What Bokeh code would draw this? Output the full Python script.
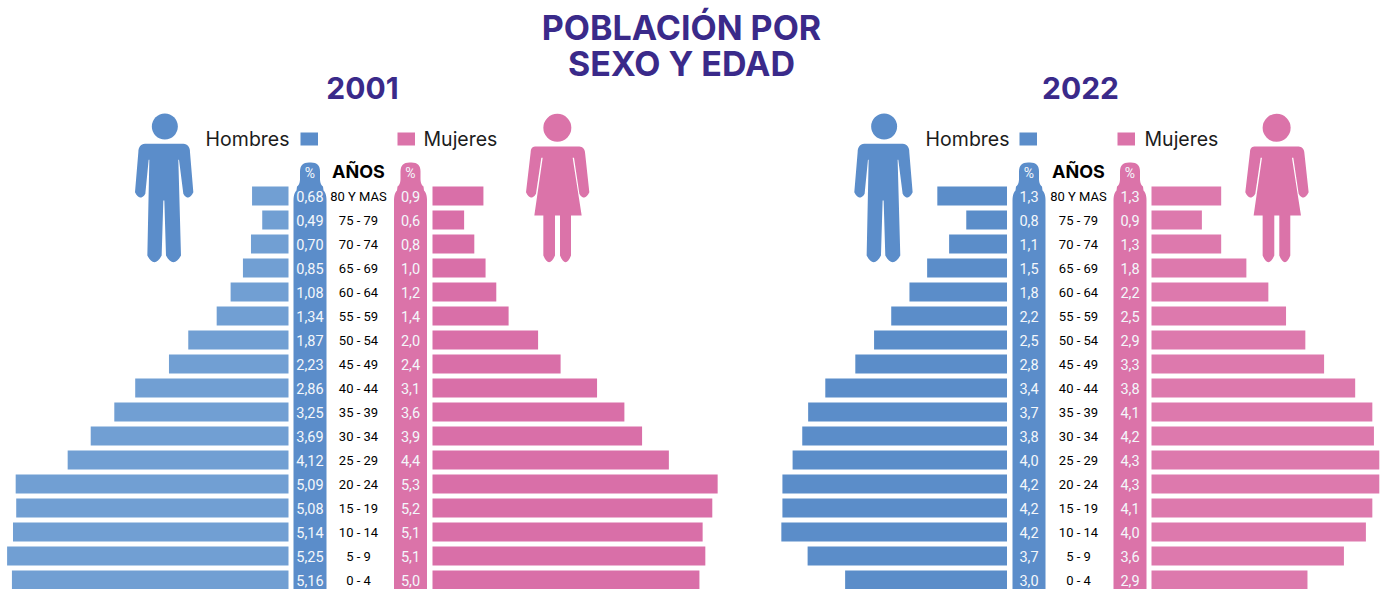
from bokeh.plotting import figure
from bokeh.models import Range1d
from bokeh.core.properties import value
from bokeh.embed import file_html
from bokeh.resources import INLINE

ages = ["80 Y MAS", "75 - 79", "70 - 74", "65 - 69", "60 - 64", "55 - 59", "50 - 54", "45 - 49", "40 - 44",
        "35 - 39", "30 - 34", "25 - 29", "20 - 24", "15 - 19", "10 - 14", "5 - 9", "0 - 4"]
men_2001_labels = ["0,68", "0,49", "0,70", "0,85", "1,08", "1,34", "1,87", "2,23", "2,86", "3,25", "3,69", "4,12",
                   "5,09", "5,08", "5,14", "5,25", "5,16"]
women_2001_labels = ["0,9", "0,6", "0,8", "1,0", "1,2", "1,4", "2,0", "2,4", "3,1", "3,6", "3,9", "4,4",
                     "5,3", "5,2", "5,1", "5,1", "5,0"]
men_2022_labels = ["1,3", "0,8", "1,1", "1,5", "1,8", "2,2", "2,5", "2,8", "3,4", "3,7", "3,8", "4,0",
                   "4,2", "4,2", "4,2", "3,7", "3,0"]
women_2022_labels = ["1,3", "0,9", "1,3", "1,8", "2,2", "2,5", "2,9", "3,3", "3,8", "4,1", "4,2", "4,3",
                     "4,3", "4,1", "4,0", "3,6", "2,9"]
men_2001 = [0.68, 0.49, 0.70, 0.85, 1.08, 1.34, 1.87, 2.23, 2.86, 3.25, 3.69, 4.12, 5.09, 5.08, 5.14, 5.25, 5.16]
women_2001 = [0.95, 0.59, 0.78, 0.99, 1.19, 1.42, 1.97, 2.39, 3.07, 3.58, 3.91, 4.41, 5.32, 5.22, 5.04, 5.09, 4.98]
men_2022 = [1.30, 0.76, 1.08, 1.49, 1.82, 2.16, 2.48, 2.83, 3.39, 3.71, 3.82, 4.00, 4.19, 4.19, 4.21, 3.72, 3.02]
women_2022 = [1.30, 0.94, 1.30, 1.77, 2.18, 2.51, 2.87, 3.22, 3.80, 4.12, 4.15, 4.25, 4.25, 4.12, 4.00, 3.59, 2.91]

W, H = 1386, 589
PX_PER_UNIT = 53.6
ROW0, ROW_STEP = 195.5, 24
BLUE, PINK = "#5b8dca", "#db73a9"
INDIGO = "#3a2a8a"
HEAD_FONT = value("Inter")
NARROW = value("Roboto")

p = figure(width=W, height=H, output_backend="svg", toolbar_location=None,
           x_range=Range1d(0, W), y_range=Range1d(H, 0), min_border=0, outline_line_color=None)
p.axis.visible = False
p.grid.visible = False
p.background_fill_color = "white"
p.border_fill_color = "white"
p.extra_y_ranges["rows"] = Range1d((H - ROW0) / ROW_STEP, -ROW0 / ROW_STEP)
rows = list(range(len(ages)))

def value_range(z, direction):
    if direction > 0:
        return Range1d(-z / PX_PER_UNIT, (W - z) / PX_PER_UNIT)
    return Range1d(z / PX_PER_UNIT, -(W - z) / PX_PER_UNIT)

def curve(a, b, c, n=8):
    out = []
    for i in range(n + 1):
        t = i / n
        out.append(((1-t)**2*a[0] + 2*t*(1-t)*b[0] + t*t*c[0], (1-t)**2*a[1] + 2*t*(1-t)*b[1] + t*t*c[1]))
    return out

def bottle(cx, neck, body, top=162, bottom=600):
    nl, nr, bl, br = cx - neck/2, cx + neck/2, cx - body/2, cx + body/2
    pts = curve((nl, top + 9), (nl, top), (nl + 9, top)) + curve((nr - 9, top), (nr, top), (nr, top + 9))
    pts += curve((nr, 178), (nr, 184), (nr + 3, 186)) + curve((br - 3, 190), (br, 193), (br, 200))
    pts += [(br, bottom), (bl, bottom)]
    pts += curve((bl, 200), (bl, 193), (bl + 3, 190)) + curve((nl - 3, 186), (nl, 184), (nl, 178))
    return [x for x, _ in pts], [y for _, y in pts]

def icon_man(dx):
    head = (120 + 133/3 + dx, 100 + 78/3)
    z = [(75,130),(190,130)] + curve((190,130),(210,132),(210,155))[1:] + [(220,275)] + curve((220,275),(205,305),(190,280))[1:]
    z += [(177,178),(175,178),(183,465)] + curve((183,465),(160,505),(138,465))[1:] + [(133,300),(130,300),(125,465)]
    z += curve((125,465),(103,505),(82,465))[1:] + [(88,178),(86,178),(76,280)] + curve((76,280),(60,305),(45,275))[1:] + [(55,155)]
    z += curve((55,155),(55,132),(75,130))[1:]
    p.circle(x=[head[0]], y=[head[1]], radius=13, fill_color=BLUE, line_color=None)
    p.patch([119.5 + a/3 + dx for a, _ in z], [100 + b/3 for _, b in z], fill_color=BLUE, line_color=None)

def icon_woman(dx):
    head = (120 + 1312/3 + dx, 100 + 82/3)
    z = [(1245,138),(1378,138)] + curve((1378,138),(1393,140),(1395,155))[1:] + [(1408,275)] + curve((1408,275),(1393,305),(1378,280))[1:]
    z += [(1362,172),(1358,172),(1385,345),(1353,345),(1353,465)] + curve((1353,465),(1337,505),(1320,465))[1:]
    z += [(1320,345),(1305,345),(1305,465)] + curve((1305,465),(1287,505),(1270,465))[1:]
    z += [(1270,345),(1243,345),(1268,172),(1264,172),(1248,280)] + curve((1248,280),(1232,305),(1218,275))[1:]
    z += [(1232,155)] + curve((1232,155),(1232,140),(1245,138))[1:]
    p.circle(x=[head[0] - 0.5], y=[head[1]], radius=14, fill_color=PINK, line_color=None)
    p.patch([119.5 + a/3 + dx for a, _ in z], [100 + b/3 for _, b in z], fill_color=PINK, line_color=None)

def label(x, y, t, size, color="black", font=HEAD_FONT, style="normal", align="center"):
    p.text(x=[x], y=[y], text=[t], text_font=font, text_font_size=f"{size}px", text_font_style=style,
           text_color=color, text_align=align, text_baseline="middle")

def pyramid(key, men, women, men_lab, women_lab, year, year_x, m_edge, f_edge, m_c, a_c, f_c,
            male_color, female_color, dx, leg):
    p.extra_x_ranges["m" + key] = value_range(m_edge, -1)
    p.extra_x_ranges["f" + key] = value_range(f_edge, 1)
    p.hbar(y=rows, left=0, right=men, height=0.79, fill_color=male_color, line_color=None,
           x_range_name="m" + key, y_range_name="rows")
    p.hbar(y=rows, left=0, right=women, height=0.79, fill_color=female_color, line_color=None,
           x_range_name="f" + key, y_range_name="rows")
    xs, ys = bottle(m_c, 20, 33)
    p.patch(xs, ys, fill_color=BLUE, line_color=None)
    xs, ys = bottle(f_c, 20, 33)
    p.patch(xs, ys, fill_color=PINK, line_color=None)
    for cx, labs in ((m_c, men_lab), (f_c, women_lab)):
        p.text(x=[cx] * len(rows), y=[r + 0.02 for r in rows], text=labs, text_font=NARROW,
               text_font_size="14.5px", text_color="#f4f7fb", text_align="center", text_baseline="middle",
               y_range_name="rows")
        label(cx, 172, "%", 14, "#f4f7fb", NARROW)
    p.text(x=[a_c] * len(rows), y=[r + 0.02 for r in rows], text=ages, text_font=NARROW,
           text_font_size="13px", text_color="black", text_align="center", text_baseline="middle",
           y_range_name="rows")
    label(a_c, 171, "AÑOS", 18, "black", HEAD_FONT, "bold")
    label(year_x, 87, year, 30, INDIGO, HEAD_FONT, "bold")
    hx, sx, sx2, mx = leg
    label(hx, 138, "Hombres", 19.5, "#1c1c1c", HEAD_FONT, "normal", "right")
    p.quad(left=[sx], right=[sx + 17.5], top=[132], bottom=[145], fill_color=BLUE, line_color=None)
    p.quad(left=[sx2], right=[sx2 + 17.5], top=[132], bottom=[145], fill_color=PINK, line_color=None)
    label(mx, 138, "Mujeres", 19.5, "#1c1c1c", HEAD_FONT, "normal", "left")
    icon_man(dx)
    icon_woman(dx)

label(681, 27, "POBLACIÓN POR", 34, INDIGO, HEAD_FONT, "bold")
label(681, 63, "SEXO Y EDAD", 34, INDIGO, HEAD_FONT, "bold")

pyramid("01", men_2001, women_2001, men_2001_labels, women_2001_labels, "2001", 362, 288, 432, 309.5, 358, 410,
        "#719fd3", "#d96fa8", 0, (289, 300, 397, 423))
pyramid("22", men_2022, women_2022, men_2022_labels, women_2022_labels, "2022", 1080, 1006.5, 1151, 1028.5, 1078, 1129.5,
        "#5b8dc9", "#dd79ad", 719.3, (1009, 1019, 1117, 1144))

open("out.html", "w").write(file_html(p, INLINE))
